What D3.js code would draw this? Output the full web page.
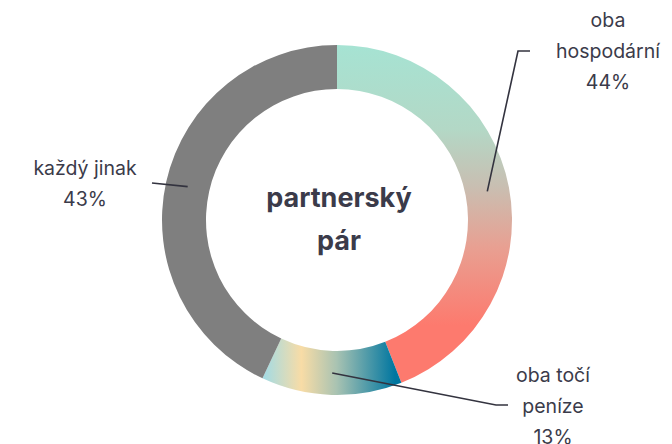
<!DOCTYPE html>
<html lang="cs">
  <head>
    <meta charset="UTF-8" />
    <title>partnerský pár</title>
    <style>
      body { margin: 0; background: #fff; }
      svg { font-family: Inter, 'Open Sans', sans-serif; }
    </style>
  </head>
  <body>
    <svg width="672" height="444"></svg>
    <script src="https://cdn.jsdelivr.net/npm/d3@7"></script>
    <script>
      // data
      const categories = ['oba hospodární', 'oba točí peníze', 'každý jinak'];
      const labelLines = [['oba', 'hospodární'], ['oba točí', 'peníze'], ['každý jinak']];
      const shares = [44, 13, 43];
      const centerTitle = ['partnerský', 'pár'];

      const svg = d3.select('svg'),
        cx = 337,
        cy = 220,
        outerR = 175,
        innerR = 131;

      const textColor = '#3b3b4a';

      const defs = svg.append('defs');

      // gradients are in the coordinates of the centred group
      const g1 = defs.append('linearGradient')
        .attr('id', 'grad0')
        .attr('gradientUnits', 'userSpaceOnUse')
        .attr('x1', 0).attr('y1', -outerR)
        .attr('x2', 0).attr('y2', 105);
      [[0, '#a6e3d3'], [0.3, '#b3d8c6'], [0.5, '#c8bfb2'], [0.72, '#e8a092'], [1, '#fd7a6e']]
        .forEach(([o, c]) => g1.append('stop').attr('offset', o).attr('stop-color', c));

      const g2 = defs.append('linearGradient')
        .attr('id', 'grad1')
        .attr('gradientUnits', 'userSpaceOnUse')
        .attr('x1', -72).attr('y1', 0)
        .attr('x2', 58).attr('y2', 0);
      [[0, '#a6dbe2'], [0.28, '#f8dca6'], [0.55, '#a9c3b2'], [1, '#0076a0']]
        .forEach(([o, c]) => g2.append('stop').attr('offset', o).attr('stop-color', c));

      const fills = ['url(#grad0)', 'url(#grad1)', '#7f7f7f'];

      const pie = d3.pie().sort(null).value((d) => d);
      const arc = d3.arc().innerRadius(innerR).outerRadius(outerR);
      const midArc = d3.arc().innerRadius(153).outerRadius(153);

      const arcs = pie(shares);

      const g = svg.append('g').attr('transform', `translate(${cx},${cy})`);

      g.selectAll('path.slice')
        .data(arcs)
        .enter()
        .append('path')
        .attr('class', 'slice')
        .attr('d', arc)
        .attr('fill', (d, i) => fills[i]);

      // leader lines: elbow point and end point
      const elbows = [[518, 51], [496, 405], [152, 183]];
      const ends = [[530, 51], [508, 405], [152, 183]];
      const labelPos = [[608, 20], [553, 375], [85, 168]];

      arcs.forEach((d, i) => {
        const [mx, my] = midArc.centroid(d);
        const pts = [[mx + cx, my + cy], elbows[i], ends[i]];
        svg.append('path')
          .attr('d', d3.line()(pts))
          .attr('fill', 'none')
          .attr('stroke', '#33333f')
          .attr('stroke-width', 1.6);

        const t = svg.append('text')
          .attr('x', labelPos[i][0])
          .attr('y', labelPos[i][1])
          .attr('text-anchor', 'middle')
          .attr('font-size', 19.5)
          .attr('fill', textColor);
        const lines = labelLines[i].concat([shares[i] + '%']);
        lines.forEach((l, j) => {
          t.append('tspan')
            .attr('x', labelPos[i][0])
            .attr('dy', j === 0 ? '0.35em' : 31)
            .text(l);
        });
      });

      svg.append('text')
        .attr('x', cx + 2)
        .attr('y', 198)
        .attr('text-anchor', 'middle')
        .attr('font-size', 27)
        .attr('font-weight', 700)
        .attr('fill', textColor)
        .selectAll('tspan')
        .data(centerTitle)
        .enter()
        .append('tspan')
        .attr('x', cx + 2)
        .attr('dy', (d, i) => (i === 0 ? '0.35em' : 43))
        .text((d) => d);
    </script>
  </body>
</html>
